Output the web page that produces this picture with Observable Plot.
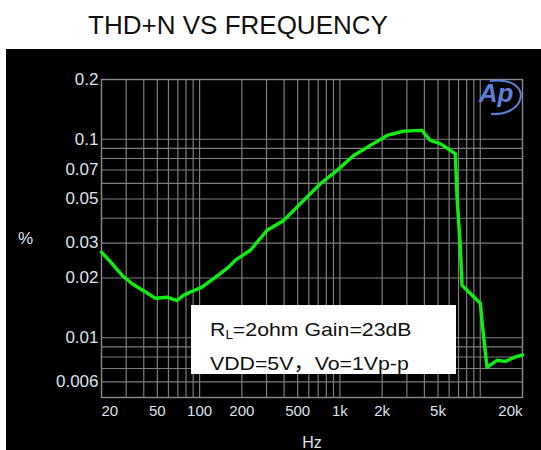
<!DOCTYPE html>
<html><head><meta charset="utf-8">
<script src="https://cdn.jsdelivr.net/npm/d3@7"></script>
<script src="https://cdn.jsdelivr.net/npm/@observablehq/plot@0.6"></script>
<style>
html,body{margin:0;padding:0;background:#fff;overflow:hidden;}
#wrap{position:relative;width:541px;height:450px;overflow:hidden;}
#title{position:absolute;left:0;width:476px;top:11.6px;text-align:center;font:26px/26px "Liberation Sans",Arial,sans-serif;color:#111;white-space:nowrap;}
#panel{position:absolute;left:6px;top:49px;width:535px;height:401px;background:#000;overflow:hidden;}
#panel svg{display:block;}
#note{position:absolute;left:191px;top:305px;width:265px;height:69px;background:#fff;color:#111;
  font:19px/26.7px "Liberation Sans",Arial,sans-serif;box-sizing:border-box;padding:11.8px 0 0 19px;white-space:nowrap;}
#note .ln{display:block;transform:scaleX(1.12);transform-origin:left center;}
#note .sub{font-size:12px;vertical-align:-3px;}
#note .cjk{font-family:"Noto Sans CJK SC",sans-serif;}
#logo{position:absolute;left:0;top:0;pointer-events:none;}
</style>
</head><body>
<div id="wrap">
  <div id="title">THD+N VS FREQUENCY</div>
  <div id="panel"></div>
  <svg id="logo" width="541" height="450"><path d="M490,81 C512,78 524,88 520,100 C517,109 505,115 491,114" fill="none" stroke="#5a7fd6" stroke-width="2"/></svg>
  <div id="note"><span class="ln">R<span class="sub">L</span>=2ohm Gain=23dB</span><span class="ln">VDD=5V<span class="cjk">，</span>Vo=1Vp-p</span></div>
</div>
<script>
// THD+N curve (Hz, %)
const freqHz = [20, 23.8, 28.1, 33.1, 41.2, 48.5, 58.7, 69.2, 77.1, 86.1, 104, 130, 161, 180, 230, 303, 398, 523, 726, 955, 1253, 1648, 2168, 2845, 3848, 4408, 5196, 6644, 6832, 7212, 7414, 8498, 10010, 10567, 11171, 13164, 15086, 17772, 20000];
const thdPct = [0.0270, 0.0236, 0.0206, 0.0187, 0.0170, 0.0158, 0.0160, 0.0154, 0.0164, 0.0170, 0.0180, 0.0202, 0.0227, 0.0246, 0.0276, 0.0348, 0.0390, 0.0474, 0.0597, 0.0697, 0.0829, 0.0931, 0.1045, 0.1099, 0.1108, 0.0986, 0.0950, 0.0845, 0.0511, 0.0286, 0.0184, 0.0167, 0.0149, 0.0101, 0.0071, 0.0077, 0.0076, 0.0080, 0.0082];

const yTicks = [0.2, 0.1, 0.07, 0.05, 0.03, 0.02, 0.01, 0.006];
const yGrid = [0.1, 0.09, 0.08, 0.07, 0.06, 0.05, 0.04, 0.03, 0.02, 0.01, 0.009, 0.008, 0.007, 0.006];
const xTicks = [20, 50, 100, 200, 500, 1000, 2000, 5000, 20000];
const xLabels = ["20", "50", "100", "200", "500", "1k", "2k", "5k", "20k"];
const xGrid = [30, 40, 50, 60, 70, 80, 90, 100, 200, 300, 400, 500, 600, 700, 800, 900, 1000, 2000, 3000, 4000, 5000, 6000, 7000, 8000, 9000, 10000];

const data = freqHz.map((f, i) => ({f, v: thdPct[i]}));
const xTickData = xTicks.map((d, i) => ({d, t: xLabels[i]}));
const labCol = "#dde2ea";
const gridCol = "#7d7d7d";
const xLab = {x: "d", text: "t", frameAnchor: "bottom", lineAnchor: "top", dy: 8, fontSize: 15, fill: labCol};

const chart = Plot.plot({
  width: 535, height: 401,
  marginLeft: 95, marginRight: 19, marginTop: 30, marginBottom: 53,
  style: {background: "transparent", color: labCol, fontFamily: "Liberation Sans, Arial, sans-serif", overflow: "hidden"},
  x: {type: "log", domain: [20, 20000], axis: null},
  y: {type: "log", domain: [0.005, 0.2], axis: null},
  marks: [
    Plot.ruleX(xGrid, {stroke: gridCol, strokeWidth: 1.2}),
    Plot.ruleY(yGrid, {stroke: gridCol, strokeWidth: 1.2}),
    Plot.frame({stroke: "#8a8a8a", strokeWidth: 1.4}),
    Plot.line(data, {x: "f", y: "v", stroke: "#10f010", strokeWidth: 3.4, strokeLinejoin: "round"}),
    Plot.text(yTicks, {y: d => d, text: d => String(d), frameAnchor: "left", textAnchor: "end", dx: -3, fontSize: 17, fill: labCol}),
    Plot.text(xTickData.slice(1, -1), {...xLab, textAnchor: "middle"}),
    Plot.text(xTickData.slice(0, 1), {...xLab, textAnchor: "start"}),
    Plot.text(xTickData.slice(-1), {...xLab, textAnchor: "end"}),
    Plot.text(["%"], {frameAnchor: "left", dx: -83.5, fontSize: 17, fill: labCol}),
    Plot.text(["Hz"], {frameAnchor: "bottom", dy: 39, lineAnchor: "top", fontSize: 16, fill: labCol}),
    Plot.text(["Ap"], {frameAnchor: "top-right", dx: -9, dy: 4, lineAnchor: "top", textAnchor: "end", fontSize: 26, fontStyle: "italic", fontWeight: "bold", fill: "#5a7fd6"})
  ]
});
document.getElementById("panel").appendChild(chart);
</script>
</body></html>
